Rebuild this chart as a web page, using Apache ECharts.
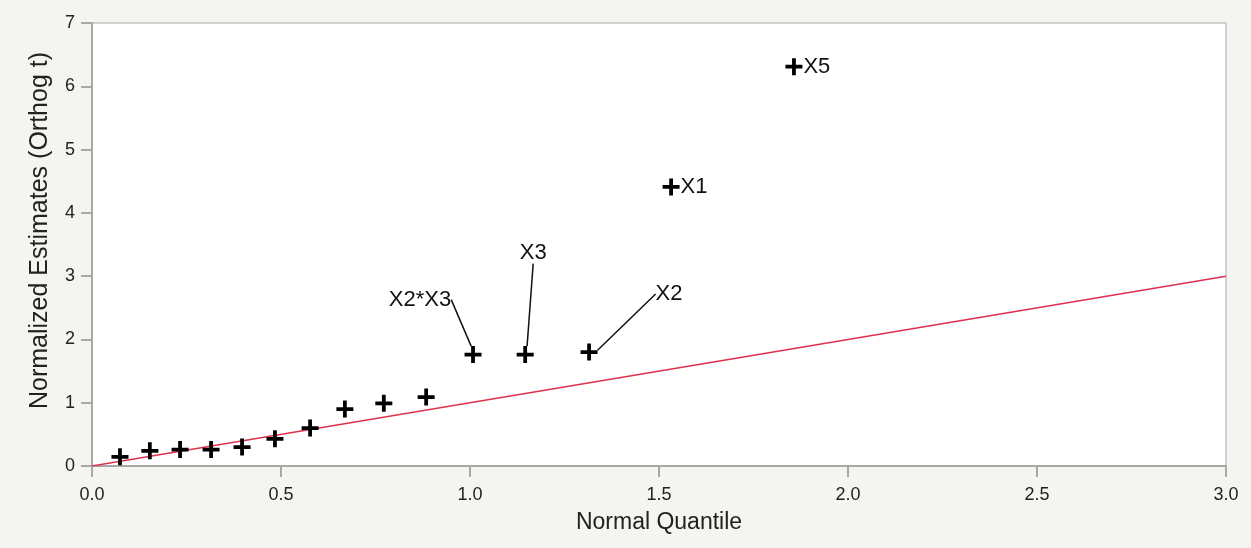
<!DOCTYPE html>
<html>
<head>
<meta charset="utf-8">
<script src="https://cdn.jsdelivr.net/npm/echarts@6/dist/echarts.min.js"></script>
<style>
html,body{margin:0;padding:0;background:#f4f4f0;}
#main{width:1251px;height:548px;}
</style>
</head>
<body>
<div id="main"></div>
<script>
// Data
var quantiles = [0.074, 0.153, 0.233, 0.315, 0.397, 0.484, 0.577, 0.669, 0.772, 0.884, 1.008, 1.146, 1.315, 1.532, 1.857];
var estimates = [0.145, 0.24, 0.26, 0.26, 0.30, 0.43, 0.60, 0.90, 0.99, 1.09, 1.76, 1.76, 1.80, 4.41, 6.31];
var termNames = ['', '', '', '', '', '', '', '', '', '', 'X2*X3', 'X3', 'X2', 'X1', 'X5'];
var refLineX = [0, 3];
var refLineY = [0, 3];
var xTicks = ['0.0', '0.5', '1.0', '1.5', '2.0', '2.5', '3.0'];

// label placement (styling, not data)
var labelOffsets = {10: [-53, -55], 11: [8, -102], 12: [80, -58]};

var FONT = '"Liberation Sans", Arial, Helvetica, sans-serif';
var plusPath = 'path://M7,0H11V7H18V11H11V18H7V11H0V7H7Z';

var points = quantiles.map(function (q, i) {
  var item = {value: [q, estimates[i]], name: termNames[i]};
  if (!termNames[i]) {
    item.label = {show: false};
  } else if (labelOffsets[i]) {
    item.label = {show: true, position: 'inside'};
    item.labelLine = {show: true, lineStyle: {color: '#111', width: 1.5}};
  } else {
    item.label = {show: true, position: 'right', distance: 1};
  }
  return item;
});

var chart = echarts.init(document.getElementById('main'));
chart.setOption({
  backgroundColor: '#f4f4f0',
  animation: false,
  grid: {left: 92, right: 25, top: 23, bottom: 82, show: true, backgroundColor: '#ffffff', borderColor: '#a8a8a8', borderWidth: 1},
  xAxis: {
    type: 'value', min: 0, max: 3, interval: 0.5,
    name: 'Normal Quantile', nameLocation: 'middle', nameGap: 45,
    nameTextStyle: {fontFamily: FONT, fontSize: 23, color: '#222'},
    axisLine: {show: true, onZero: false, lineStyle: {color: '#a8a8a8', width: 2}},
    axisTick: {show: true, length: 11, lineStyle: {color: '#a8a8a8', width: 2}},
    axisLabel: {fontFamily: FONT, fontSize: 18, color: '#222', margin: 20,
      formatter: function (v) { return xTicks[Math.round(v * 2)] || ''; }},
    splitLine: {show: false}
  },
  yAxis: {
    type: 'value', min: 0, max: 7, interval: 1,
    name: 'Normalized Estimates (Orthog t)', nameLocation: 'middle', nameGap: 39,
    nameTextStyle: {fontFamily: FONT, fontSize: 25, color: '#222', padding: [0, 0, 0, 28]},
    axisLine: {show: true, onZero: false, lineStyle: {color: '#a8a8a8', width: 2}},
    axisTick: {show: true, length: 11, lineStyle: {color: '#a8a8a8', width: 2}},
    axisLabel: {fontFamily: FONT, fontSize: 18, color: '#222', margin: 17},
    splitLine: {show: false}
  },
  series: [
    {
      type: 'line',
      data: refLineX.map(function (x, i) { return [x, refLineY[i]]; }),
      symbol: 'none',
      lineStyle: {color: '#e0304e', width: 1.5},
      z: 2
    },
    {
      type: 'scatter',
      data: points,
      symbol: plusPath,
      symbolSize: 17,
      itemStyle: {color: '#000', opacity: 1},
      label: {
        fontFamily: FONT, fontSize: 22, color: '#111',
        formatter: '{b}'
      },
      labelLayout: function (params) {
        var off = labelOffsets[params.dataIndex];
        if (off) return {dx: off[0], dy: off[1], hideOverlap: false};
        return {hideOverlap: false};
      },
      z: 3
    }
  ]
});
</script>
</body>
</html>
